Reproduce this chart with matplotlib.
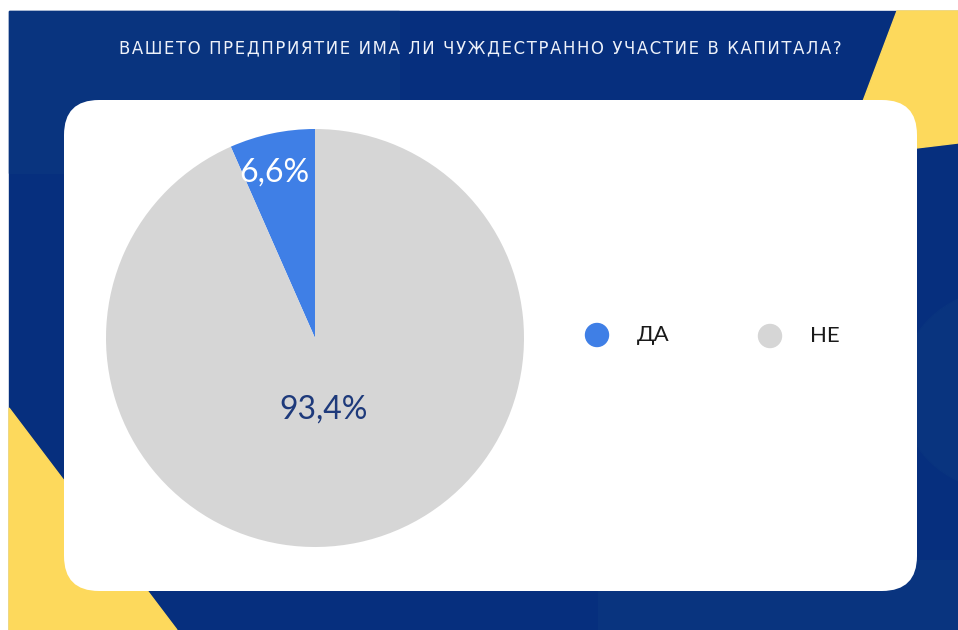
import numpy as np
import matplotlib
matplotlib.use("Agg")
import matplotlib.pyplot as plt
from matplotlib.patches import FancyBboxPatch, Polygon, Rectangle, Circle

TITLE = "ВАШЕТО ПРЕДПРИЯТИЕ ИМА ЛИ ЧУЖДЕСТРАННО УЧАСТИЕ В КАПИТАЛА?"
labels = ["ДА", "НЕ"]
shares = [6.6, 93.4]
colors = ["#3F7FE6", "#D6D6D6"]
pct_colors = ["white", "#1E3A7B"]
pct_dist = [0.81, 0.35]

W, H = 958, 630
NAVY = "#062F7E"
NAVY_LIGHT = "#09347F"
YELLOW = "#FDD95C"
FONT = ["Lato", "DejaVu Sans"]

fig = plt.figure(figsize=(W / 100, H / 100), dpi=100)
bg = fig.add_axes([0, 0, 1, 1])
bg.set_xlim(0, W)
bg.set_ylim(H, 0)
bg.axis("off")

# backdrop: navy slide with faint lighter panels and yellow corners
bg.add_patch(Rectangle((9, 11), W - 9, H - 11, color=NAVY, zorder=0))
bg.add_patch(Rectangle((9, 11), 390, 162, color=NAVY_LIGHT, zorder=0.5))
bg.add_patch(Rectangle((598, 560), W - 598, 70, color=NAVY_LIGHT, zorder=0.5))
bg.add_patch(Circle((1000, 390), 100, color=NAVY_LIGHT, zorder=0.5))
bg.add_patch(Polygon([(897, 11), (W, 11), (W, 143), (842, 157)],
                     closed=True, color=YELLOW, zorder=1))
bg.add_patch(Polygon([(9, 408), (177, H), (9, H)],
                     closed=True, color=YELLOW, zorder=1))

# white card
bg.add_patch(FancyBboxPatch((64 + 35, 100 + 35), 853 - 70, 491 - 70,
                            boxstyle="round,pad=35", fc="white", ec="none",
                            zorder=2))

# tracked-out heading (hair spaces between letters)
bg.text(480, 48, "\u200a".join(TITLE), color="#EEF2FA", fontsize=11.9,
        ha="center", va="center", family=["DejaVu Sans"], zorder=3)

# legend markers
legend_xy = [(597, 335), (770, 336)]
for (x, y), lab, col in zip(legend_xy, labels, colors):
    bg.add_patch(Circle((x, y), 11.5, color=col, zorder=3))
    bg.text(x + 40, y, lab, fontsize=16, color="#1A1A1A", ha="left",
            va="center", family=FONT, zorder=3)

# pie
cx, cy, r = 315, 338, 209
ax = fig.add_axes([(cx - r) / W, (H - cy - r) / H, 2 * r / W, 2 * r / H])
ax.set_zorder(5)
wedges, _ = ax.pie(shares, colors=colors, startangle=90, counterclock=True,
                   radius=1, wedgeprops=dict(linewidth=0))
ax.set_xlim(-1, 1)
ax.set_ylim(-1, 1)
ax.set_aspect("equal")
ax.axis("off")

for w, v, c, d in zip(wedges, shares, pct_colors, pct_dist):
    mid = np.deg2rad((w.theta1 + w.theta2) / 2)
    ax.text(d * np.cos(mid) - 0.03, d * np.sin(mid), f"{v:.1f}%".replace(".", ","),
            color=c, fontsize=23, ha="center", va="center", family=FONT)

fig.savefig("out.png", dpi=100)
